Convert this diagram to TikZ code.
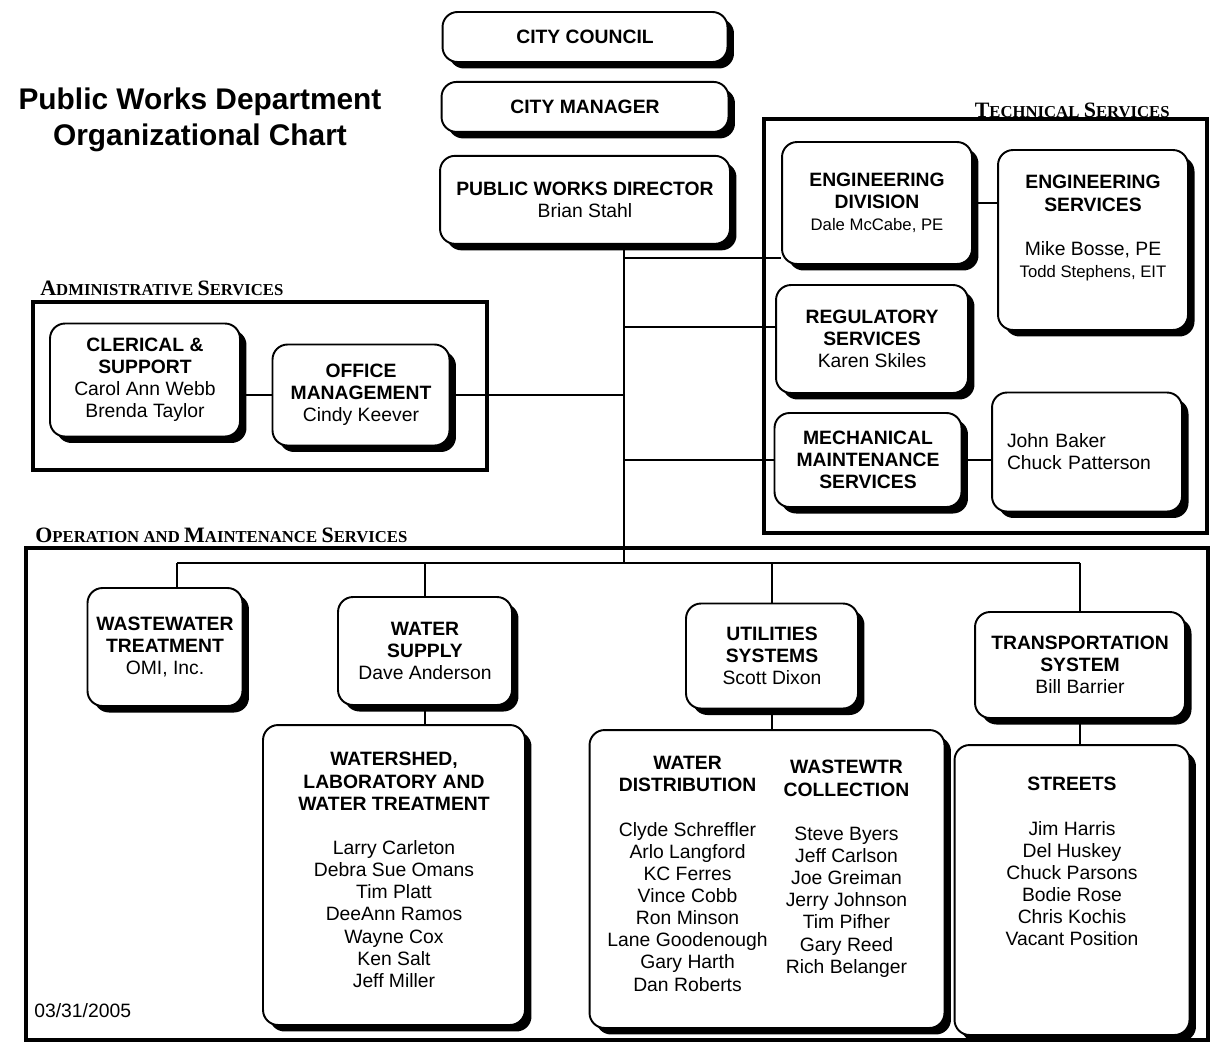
\documentclass[tikz,border=0pt]{standalone}
\usepackage{fontspec}
\setmainfont{Liberation Sans}
\newfontfamily\capsfont{Liberation Serif}
\usetikzlibrary{positioning, shadows, calc}

\newcommand{\hdcap}[2]{{\fontsize{12.5}{14}\selectfont #1}{\fontsize{9.5}{11}\selectfont #2}}
\newcommand{\smallname}{\fontsize{9.5}{12}\selectfont}

\begin{document}
\begin{tikzpicture}[
    x=0.02cm, y=-0.02cm,
    orgbox/.style={
        rectangle,
        draw,
        line width=1.1pt,
        rounded corners=0.3cm,
        fill=white,
        drop shadow={shadow xshift=0.13cm, shadow yshift=-0.13cm, fill=black, opacity=1},
        align=center,
        inner sep=2pt,
        font=\fontsize{11}{12.6}\selectfont
    },
    listtext/.style={
        anchor=north,
        align=center,
        inner sep=0pt,
        font=\fontsize{11}{12.6}\selectfont
    },
    sechead/.style={
        inner sep=0pt,
        font=\capsfont\bfseries
    },
    titletext/.style={
        align=center,
        font=\fontsize{17}{20.4}\selectfont\bfseries
    },
    frame/.style={
        line width=2.8pt
    },
    link/.style={
        line width=0.8pt
    }
]
\useasboundingbox (0,0) rectangle (1212,1055);

% Title
\node[titletext] (title) at (200,120) {Public Works Department\\Organizational Chart};

% Section frames
\draw[frame] (33,302) rectangle (487,470);
\draw[frame] (764,119) rectangle (1207,533);
\draw[frame] (26,548) rectangle (1208,1040);

\node[sechead, anchor=base west] (admhead) at (40,295) {\hdcap{A}{DMINISTRATIVE} \hdcap{S}{ERVICES}};
\node[sechead, anchor=base east] (techhead) at (1170,117) {\hdcap{T}{ECHNICAL} \hdcap{S}{ERVICES}};
\node[sechead, anchor=base west] (omhead) at (35,542) {\hdcap{O}{PERATION} \hdcap{}{AND} \hdcap{M}{AINTENANCE} \hdcap{S}{ERVICES}};

% Top chain
\node[orgbox, minimum width=5.7cm, minimum height=1cm] (council) at (585,37) {\textbf{CITY COUNCIL}};
\node[orgbox, minimum width=5.74cm, minimum height=1cm, below=0.36cm of council] (manager) {\textbf{CITY MANAGER}};
\node[orgbox, minimum width=5.8cm, minimum height=1.76cm, below=0.44cm of manager] (director) {\textbf{PUBLIC WORKS DIRECTOR}\\Brian Stahl};

% Administrative services
\node[orgbox, minimum width=3.8cm, minimum height=2.26cm] (clerical) at (145,380) {\textbf{CLERICAL \&}\\\textbf{SUPPORT}\\Carol Ann Webb\\Brenda Taylor};
\node[orgbox, minimum width=3.54cm, minimum height=2.02cm] (office) at (361,395) {\textbf{OFFICE}\\\textbf{MANAGEMENT}\\Cindy Keever};

% Technical services
\node[orgbox, minimum width=3.8cm, minimum height=2.44cm] (engdiv) at (877,203) {\textbf{ENGINEERING}\\\textbf{DIVISION}\\{\smallname Dale McCabe, PE}};
\node[orgbox, minimum width=3.8cm, minimum height=3.6cm] (engserv) at (1093,240) {};
\node[listtext] (engservtext) at ([yshift=-0.52cm]engserv.north) {\textbf{ENGINEERING}\\\textbf{SERVICES}\\[12.6pt]Mike Bosse, PE\\{\smallname Todd Stephens, EIT}};
\node[orgbox, minimum width=3.84cm, minimum height=2.16cm] (regul) at (872,339) {\textbf{REGULATORY}\\\textbf{SERVICES}\\Karen Skiles};
\node[orgbox, minimum width=3.74cm, minimum height=1.88cm] (mech) at (868,460) {\textbf{MECHANICAL}\\\textbf{MAINTENANCE}\\\textbf{SERVICES}};
\node[orgbox, align=left, text width=3.2cm, inner xsep=0.3cm, minimum height=2.38cm] (mechstaff) at (1087,452) {John Baker\\Chuck Patterson};

% Operation and maintenance services
\node[orgbox, minimum width=3.1cm, minimum height=2.36cm] (wwtreat) at (165,647) {\textbf{WASTEWATER}\\\textbf{TREATMENT}\\OMI, Inc.};
\node[orgbox, minimum width=3.48cm, minimum height=2.16cm] (watersup) at (425,651) {\textbf{WATER}\\\textbf{SUPPLY}\\Dave Anderson};
\node[orgbox, minimum width=3.44cm, minimum height=2.1cm] (utilsys) at (772,656) {\textbf{UTILITIES}\\\textbf{SYSTEMS}\\Scott Dixon};
\node[orgbox, minimum width=4.2cm, minimum height=2.12cm] (transsys) at (1080,665) {\textbf{TRANSPORTATION}\\\textbf{SYSTEM}\\Bill Barrier};

\node[orgbox, minimum width=5.24cm, minimum height=6cm] (watershed) at (394,875) {};
\node[listtext] (watershedtext) at ([yshift=-0.56cm]watershed.north) {\textbf{WATERSHED,}\\\textbf{LABORATORY AND}\\\textbf{WATER TREATMENT}\\[12.6pt]Larry Carleton\\Debra Sue Omans\\Tim Platt\\DeeAnn Ramos\\Wayne Cox\\Ken Salt\\Jeff Miller};

\node[orgbox, minimum width=7.1cm, minimum height=5.96cm] (utilcrew) at (767,879) {};
\node[listtext] (distribtext) at ([xshift=-1.59cm, yshift=-0.54cm]utilcrew.north) {\textbf{WATER}\\\textbf{DISTRIBUTION}\\[12.6pt]Clyde Schreffler\\Arlo Langford\\KC Ferres\\Vince Cobb\\Ron Minson\\Lane Goodenough\\Gary Harth\\Dan Roberts};
\node[listtext] (collecttext) at ([xshift=1.59cm, yshift=-0.62cm]utilcrew.north) {\textbf{WASTEWTR}\\\textbf{COLLECTION}\\[12.6pt]Steve Byers\\Jeff Carlson\\Joe Greiman\\Jerry Johnson\\Tim Pifher\\Gary Reed\\Rich Belanger};

\node[orgbox, minimum width=4.7cm, minimum height=5.8cm] (streets) at (1072,890) {};
\node[listtext] (streetstext) at ([yshift=-0.66cm]streets.north) {\textbf{STREETS}\\[12.6pt]Jim Harris\\Del Huskey\\Chuck Parsons\\Bodie Rose\\Chris Kochis\\Vacant Position};

\node[anchor=base west, inner sep=0pt, font=\fontsize{11}{13}\selectfont] (date) at (34,1017) {03/31/2005};

% Connectors
\coordinate (trunk) at (624,563);
\coordinate (busL) at (177,563);
\coordinate (busR) at (1080,563);
\coordinate (tapEng) at (624,258);
\coordinate (tapReg) at (624,327);

\draw[link] (director.south -| trunk) -- (trunk);
\draw[link] (busL) -- (busR);
\draw[link] (tapEng) -- (tapEng -| engdiv.west);
\draw[link] (tapReg) -- (tapReg -| regul.west);
\draw[link] (office.east) -- (office.east -| trunk);
\draw[link] (mech.west) -- (mech.west -| trunk);
\draw[link] (clerical.east |- office.west) -- (office.west);
\draw[link] (engdiv.east) -- (engdiv.east -| engserv.west);
\draw[link] (mech.east) -- (mech.east -| mechstaff.west);

\draw[link] (busL) -- (busL |- wwtreat.north);
\draw[link] (watersup.north |- busL) -- (watersup.north);
\draw[link] (utilsys.north |- busL) -- (utilsys.north);
\draw[link] (busR) -- (busR |- transsys.north);
\draw[link] (watersup.south) -- (watersup.south |- watershed.north);
\draw[link] (utilsys.south) -- (utilsys.south |- utilcrew.north);
\draw[link] (transsys.south) -- (transsys.south |- streets.north);

\end{tikzpicture}
\end{document}
